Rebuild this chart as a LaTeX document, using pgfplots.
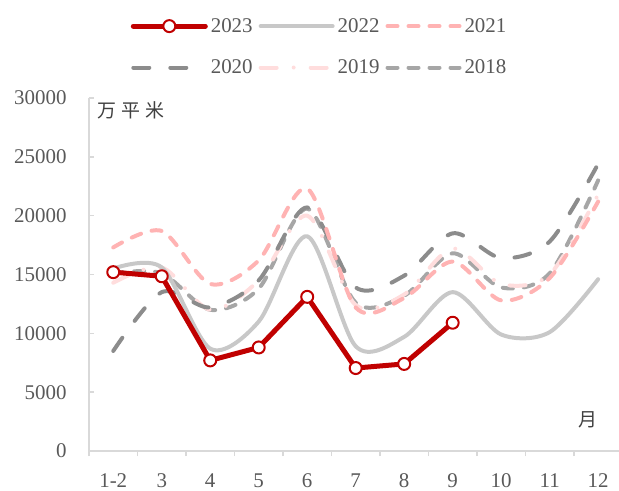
\documentclass[border=0pt]{standalone}
\usepackage{fontspec}
\setmainfont{Liberation Serif}
\newfontfamily\cjk{Noto Sans CJK SC}
\usepackage{pgfplots}
\pgfplotsset{compat=1.18}

\definecolor{c23}{HTML}{C00000}
\definecolor{c22}{HTML}{C8C8C8}
\definecolor{c21}{HTML}{FFB3B3}
\definecolor{c20}{HTML}{8C8C8C}
\definecolor{c19}{HTML}{FFDDDD}
\definecolor{c18}{HTML}{A6A6A6}
\definecolor{axisgrey}{HTML}{D9D9D9}
\definecolor{labelgrey}{HTML}{595959}
\definecolor{textgrey}{HTML}{404040}

\newcommand{\lbl}{\fontsize{21}{21}\selectfont}

\begin{document}
\begin{tikzpicture}
\useasboundingbox (-89bp,-40bp) rectangle (530bp,451bp);
\begin{axis}[
  at={(0,0)}, anchor=south west,
  scale only axis, width=530bp, height=353bp,
  xmin=-0.5, xmax=10.43, ymin=0, ymax=30000,
  axis lines=left,
  axis line style={-, draw=axisgrey, line width=1.6bp},
  xtick={0,...,10},
  xticklabels={1-2,3,4,5,6,7,8,9,10,11,12},
  major x tick style={draw=none},
  minor xtick={-0.5,0.5,...,9.5},
  minor x tick style={draw=axisgrey, line width=1.4bp, yshift=-5bp},
  minor tick length=5bp,
  ytick={0,5000,...,30000},
  scaled y ticks=false,
  y tick style={draw=axisgrey, line width=1.4bp},
  major tick length=5bp,
  tick align=inside,
  /pgf/number format/1000 sep={},
  /pgf/number format/assume math mode=true,
  tick label style={font=\lbl, text=labelgrey},
  xticklabel style={yshift=-19bp},
  yticklabel style={xshift=-19bp},
  clip=false,
  reverse legend,
  legend columns=3,
  legend style={at={(0.436,1.145)}, anchor=center, draw=none, fill=none,
    font=\lbl, text=labelgrey, row sep=22bp,
    nodes={inner xsep=3bp},
    /tikz/every even column/.append style={column sep=3bp}},
  legend image code/.code={
    \draw[mark repeat=2,mark phase=2,#1] plot coordinates {(0bp,0bp) (36bp,0bp) (72bp,0bp)};},
  every axis plot/.append style={line width=4bp, line cap=round, line join=round},
]
% 2018
\addplot[c18, smooth, dash pattern=on 10bp off 11bp] coordinates {
  (0,15100) (1,15100) (2,12000) (3,13800) (4,20600) (5,12600)
  (6,13200) (7,16800) (8,13900) (9,15100) (10,23000)};
\addlegendentry{2018}
% 2019
\addplot[c19, smooth, dash pattern=on 16bp off 17bp on 0bp off 17bp] coordinates {
  (0,14300) (1,15600) (2,12000) (3,14500) (4,20000) (5,12400)
  (6,13300) (7,17200) (8,14200) (9,15000) (10,21800)};
\addlegendentry{2019}
% 2020
\addplot[c20, smooth, dash pattern=on 16bp off 21bp] coordinates {
  (0,8500) (1,13500) (2,12200) (3,14500) (4,20700) (5,13900)
  (6,14900) (7,18500) (8,16400) (9,17800) (10,24400)};
\addlegendentry{2020}
% 2021
\addplot[c21, smooth, dash pattern=on 10bp off 11bp] coordinates {
  (0,17300) (1,18700) (2,14200) (3,16200) (4,22300) (5,12200)
  (6,13000) (7,16100) (8,12800) (9,14700) (10,21200)};
\addlegendentry{2021}
% 2022
\addplot[c22, smooth] coordinates {
  (0,15500) (1,15600) (2,8700) (3,11000) (4,18250) (5,8900)
  (6,9700) (7,13500) (8,9900) (9,10100) (10,14600)};
\addlegendentry{2022}
% 2023
\addplot[c23, line width=5bp, mark=*, mark size=6bp,
  mark options={fill=white, draw=c23, line width=2bp, solid}] coordinates {
  (0,15200) (1,14850) (2,7700) (3,8800) (4,13100) (5,7050)
  (6,7400) (7,10900)};
\addlegendentry{2023}
\end{axis}
\node[anchor=west, text=textgrey, font=\cjk\fontsize{19}{19}\selectfont, inner sep=0pt]
  at (8bp,341bp) {万\hspace{5bp}平\hspace{5bp}米};
\node[text=textgrey, font=\cjk\fontsize{19}{19}\selectfont, inner sep=0pt]
  at (499bp,31bp) {月};
\end{tikzpicture}
\end{document}
